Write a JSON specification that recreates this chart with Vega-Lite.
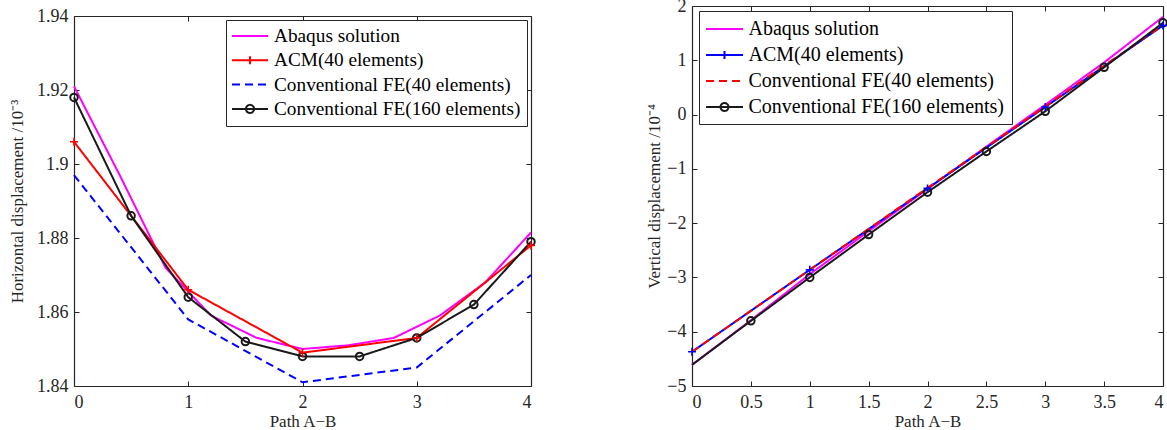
{
  "$schema": "https://vega.github.io/schema/vega-lite/v6.json",
  "padding": {"left": 8, "top": -3, "right": 0, "bottom": 0},
  "spacing": 106,
  "config": {
    "font": "Liberation Serif",
    "view": {"stroke": null},
    "axis": {
      "labelFont": "Liberation Serif", "titleFont": "Liberation Serif",
      "labelColor": "#262626", "titleColor": "#262626",
      "labelFontSize": 18, "titleFontSize": 17, "titleFontWeight": "normal",
      "grid": false, "domainColor": "#262626", "tickColor": "#262626",
      "domainWidth": 1.2, "tickWidth": 1, "tickSize": -5, "format": "~g"
    },
    "axisX": {"labelPadding": 12, "titlePadding": 2},
    "axisY": {"labelPadding": 11, "titlePadding": 10},
    "legend": {
      "labelFont": "Liberation Serif", "labelColor": "#000000",
      "strokeColor": "#262626", "fillColor": "#ffffff", "title": null,
      "labelLimit": 500
    }
  },
  "resolve": {
    "scale": {"color": "independent", "strokeDash": "independent"},
    "legend": {"color": "independent", "strokeDash": "independent"}
  },
  "hconcat": [
    {
      "width": 457,
      "height": 380,
      "data": {"values": [
        {"s": "Abaqus solution", "x": 0, "y": 1.921},
        {"s": "Abaqus solution", "x": 0.4, "y": 1.897},
        {"s": "Abaqus solution", "x": 0.8, "y": 1.872},
        {"s": "Abaqus solution", "x": 1.2, "y": 1.859},
        {"s": "Abaqus solution", "x": 1.6, "y": 1.853},
        {"s": "Abaqus solution", "x": 2.0, "y": 1.850},
        {"s": "Abaqus solution", "x": 2.4, "y": 1.851},
        {"s": "Abaqus solution", "x": 2.8, "y": 1.853},
        {"s": "Abaqus solution", "x": 3.2, "y": 1.859},
        {"s": "Abaqus solution", "x": 3.6, "y": 1.868},
        {"s": "Abaqus solution", "x": 4.0, "y": 1.8815},
        {"s": "ACM(40 elements)", "x": 0, "y": 1.906},
        {"s": "ACM(40 elements)", "x": 1, "y": 1.866},
        {"s": "ACM(40 elements)", "x": 2, "y": 1.849},
        {"s": "ACM(40 elements)", "x": 3, "y": 1.853},
        {"s": "ACM(40 elements)", "x": 4, "y": 1.878},
        {"s": "Conventional FE(40 elements)", "x": 0, "y": 1.897},
        {"s": "Conventional FE(40 elements)", "x": 1, "y": 1.858},
        {"s": "Conventional FE(40 elements)", "x": 2, "y": 1.841},
        {"s": "Conventional FE(40 elements)", "x": 3, "y": 1.845},
        {"s": "Conventional FE(40 elements)", "x": 4, "y": 1.870},
        {"s": "Conventional FE(160 elements)", "x": 0, "y": 1.918},
        {"s": "Conventional FE(160 elements)", "x": 0.5, "y": 1.886},
        {"s": "Conventional FE(160 elements)", "x": 1, "y": 1.864},
        {"s": "Conventional FE(160 elements)", "x": 1.5, "y": 1.852},
        {"s": "Conventional FE(160 elements)", "x": 2, "y": 1.848},
        {"s": "Conventional FE(160 elements)", "x": 2.5, "y": 1.848},
        {"s": "Conventional FE(160 elements)", "x": 3, "y": 1.853},
        {"s": "Conventional FE(160 elements)", "x": 3.5, "y": 1.862},
        {"s": "Conventional FE(160 elements)", "x": 4, "y": 1.879}
      ]},
      "layer": [
        {
          "mark": {"type": "line", "strokeWidth": 2},
          "encoding": {
            "x": {"field": "x", "type": "quantitative",
              "scale": {"domain": [0, 4], "nice": false, "zero": false},
              "axis": {"orient": "bottom", "title": "Path A−B", "values": [0, 1, 2, 3, 4]}},
            "y": {"field": "y", "type": "quantitative",
              "scale": {"domain": [1.84, 1.94], "range": [380, 10], "nice": false, "zero": false},
              "axis": {"orient": "left", "title": "Horizontal displacement /10⁻³", "values": [1.84, 1.86, 1.88, 1.9, 1.92, 1.94]}},
            "color": {"field": "s", "type": "nominal",
              "scale": {"domain": ["Abaqus solution", "ACM(40 elements)", "Conventional FE(40 elements)", "Conventional FE(160 elements)"],
                        "range": ["#ff00ff", "#ff0000", "#0000ff", "#1a1a1a"]},
              "legend": {"title": null, "orient": "none", "legendX": 152, "legendY": 14, "symbolSize": 324, "symbolOffset": 8,
                "labelOffset": 14, "rowPadding": 3.3, "labelFontSize": 19.3, "labelFont": "Liberation Serif", "padding": 6, "symbolStrokeWidth": 2,
                "encode": {"symbols": {"update": {
                  "shape": {"signal": "datum.value === 'ACM(40 elements)' ? 'M-2,0L2,0M0,-0.45L0,0.45' : (datum.value === 'Conventional FE(160 elements)' ? 'M-2,0L2,0M-0.45,0A0.45,0.45 0 1,0 0.45,0A0.45,0.45 0 1,0 -0.45,0' : 'M-2,0L2,0')"},
                  "fill": {"value": "transparent"}, "opacity": {"value": 1}}}}}},
            "strokeDash": {"field": "s", "type": "nominal",
              "scale": {"domain": ["Abaqus solution", "ACM(40 elements)", "Conventional FE(40 elements)", "Conventional FE(160 elements)"],
                        "range": [[1, 0], [1, 0], [8, 5], [1, 0]]},
              "legend": {"title": null, "orient": "none", "legendX": 152, "legendY": 14, "symbolSize": 324, "symbolOffset": 8,
                "labelOffset": 14, "rowPadding": 3.3, "labelFontSize": 19.3, "labelFont": "Liberation Serif", "padding": 6, "symbolStrokeWidth": 2}}
          }
        },
        {
          "transform": [{"filter": "datum.s === 'Conventional FE(160 elements)'"}],
          "mark": {"type": "point", "shape": "circle", "filled": false, "size": 56, "strokeWidth": 2, "color": "#1a1a1a", "opacity": 1},
          "encoding": {
            "x": {"field": "x", "type": "quantitative",
              "axis": {"orient": "top", "offset": -10, "labels": false, "title": null, "values": [0, 1, 2, 3, 4]}},
            "y": {"field": "y", "type": "quantitative",
              "axis": {"orient": "right", "labels": false, "title": null, "values": [1.84, 1.86, 1.88, 1.9, 1.92, 1.94]}}
          }
        },
        {
          "transform": [{"filter": "datum.s === 'ACM(40 elements)'"}],
          "mark": {"type": "point", "shape": "M-1,0L1,0M0,-1L0,1", "filled": false, "size": 64, "strokeWidth": 1.6, "color": "#ff0000", "opacity": 1},
          "encoding": {
            "x": {"field": "x", "type": "quantitative", "axis": null},
            "y": {"field": "y", "type": "quantitative", "axis": null}
          }
        }
      ],
      "resolve": {"axis": {"x": "independent", "y": "independent"}}
    },
    {
      "width": 471,
      "height": 380,
      "data": {"values": [
        {"s": "Abaqus solution", "x": 0, "y": -4.61},
        {"s": "Abaqus solution", "x": 0.5, "y": -3.79},
        {"s": "Abaqus solution", "x": 1, "y": -2.94},
        {"s": "Abaqus solution", "x": 1.5, "y": -2.15},
        {"s": "Abaqus solution", "x": 2, "y": -1.37},
        {"s": "Abaqus solution", "x": 2.5, "y": -0.59},
        {"s": "Abaqus solution", "x": 3, "y": 0.18},
        {"s": "Abaqus solution", "x": 3.5, "y": 0.96},
        {"s": "Abaqus solution", "x": 4, "y": 1.80},
        {"s": "ACM(40 elements)", "x": 0, "y": -4.37},
        {"s": "ACM(40 elements)", "x": 1, "y": -2.86},
        {"s": "ACM(40 elements)", "x": 2, "y": -1.36},
        {"s": "ACM(40 elements)", "x": 3, "y": 0.14},
        {"s": "ACM(40 elements)", "x": 4, "y": 1.64},
        {"s": "Conventional FE(40 elements)", "x": 0, "y": -4.37},
        {"s": "Conventional FE(40 elements)", "x": 1, "y": -2.86},
        {"s": "Conventional FE(40 elements)", "x": 2, "y": -1.35},
        {"s": "Conventional FE(40 elements)", "x": 3, "y": 0.15},
        {"s": "Conventional FE(40 elements)", "x": 4, "y": 1.65},
        {"s": "Conventional FE(160 elements)", "x": 0, "y": -4.61},
        {"s": "Conventional FE(160 elements)", "x": 0.5, "y": -3.80},
        {"s": "Conventional FE(160 elements)", "x": 1, "y": -3.00},
        {"s": "Conventional FE(160 elements)", "x": 1.5, "y": -2.21},
        {"s": "Conventional FE(160 elements)", "x": 2, "y": -1.43},
        {"s": "Conventional FE(160 elements)", "x": 2.5, "y": -0.68},
        {"s": "Conventional FE(160 elements)", "x": 3, "y": 0.06},
        {"s": "Conventional FE(160 elements)", "x": 3.5, "y": 0.87},
        {"s": "Conventional FE(160 elements)", "x": 4, "y": 1.69}
      ]},
      "layer": [
        {
          "mark": {"type": "line", "strokeWidth": 2},
          "encoding": {
            "x": {"field": "x", "type": "quantitative",
              "scale": {"domain": [0, 4], "nice": false, "zero": false},
              "axis": {"orient": "bottom", "title": "Path A−B", "values": [0, 0.5, 1, 1.5, 2, 2.5, 3, 3.5, 4]}},
            "y": {"field": "y", "type": "quantitative",
              "scale": {"domain": [-5, 2], "nice": false, "zero": false},
              "axis": {"orient": "left", "title": "Vertical displacement /10⁻⁴", "titlePadding": 3, "values": [-5, -4, -3, -2, -1, 0, 1, 2]}},
            "color": {"field": "s", "type": "nominal",
              "scale": {"domain": ["Abaqus solution", "ACM(40 elements)", "Conventional FE(40 elements)", "Conventional FE(160 elements)"],
                        "range": ["#ff00ff", "#0000ff", "#ff0000", "#1a1a1a"]},
              "legend": {"title": null, "orient": "none", "legendX": 7, "legendY": 5, "symbolSize": 400, "symbolOffset": 7.5,
                "labelOffset": 13, "rowPadding": 5, "labelFontSize": 20, "labelFont": "Liberation Serif", "padding": 7, "symbolStrokeWidth": 2,
                "encode": {"symbols": {"update": {
                  "shape": {"signal": "datum.value === 'ACM(40 elements)' ? 'M-1.85,0L1.85,0M0,-0.4L0,0.4' : (datum.value === 'Conventional FE(160 elements)' ? 'M-1.85,0L1.85,0M-0.4,0A0.4,0.4 0 1,0 0.4,0A0.4,0.4 0 1,0 -0.4,0' : 'M-1.85,0L1.85,0')"},
                  "fill": {"value": "transparent"}, "opacity": {"value": 1}}}}}},
            "strokeDash": {"field": "s", "type": "nominal",
              "scale": {"domain": ["Abaqus solution", "ACM(40 elements)", "Conventional FE(40 elements)", "Conventional FE(160 elements)"],
                        "range": [[1, 0], [1, 0], [8, 5], [1, 0]]},
              "legend": {"title": null, "orient": "none", "legendX": 7, "legendY": 5, "symbolSize": 400, "symbolOffset": 7.5,
                "labelOffset": 13, "rowPadding": 5, "labelFontSize": 20, "labelFont": "Liberation Serif", "padding": 7, "symbolStrokeWidth": 2}}
          }
        },
        {
          "transform": [{"filter": "datum.s === 'Conventional FE(160 elements)' && datum.x > 0"}],
          "mark": {"type": "point", "shape": "circle", "filled": false, "size": 56, "strokeWidth": 2, "color": "#1a1a1a", "opacity": 1},
          "encoding": {
            "x": {"field": "x", "type": "quantitative",
              "axis": {"orient": "top", "labels": false, "title": null, "values": [0, 0.5, 1, 1.5, 2, 2.5, 3, 3.5, 4]}},
            "y": {"field": "y", "type": "quantitative",
              "axis": {"orient": "right", "labels": false, "title": null, "values": [-5, -4, -3, -2, -1, 0, 1, 2]}}
          }
        },
        {
          "transform": [{"filter": "datum.s === 'ACM(40 elements)'"}],
          "mark": {"type": "point", "shape": "M-1,0L1,0M0,-1L0,1", "filled": false, "size": 64, "strokeWidth": 1.6, "color": "#0000ff", "opacity": 1},
          "encoding": {
            "x": {"field": "x", "type": "quantitative", "axis": null},
            "y": {"field": "y", "type": "quantitative", "axis": null}
          }
        }
      ],
      "resolve": {"axis": {"x": "independent", "y": "independent"}}
    }
  ]
}
